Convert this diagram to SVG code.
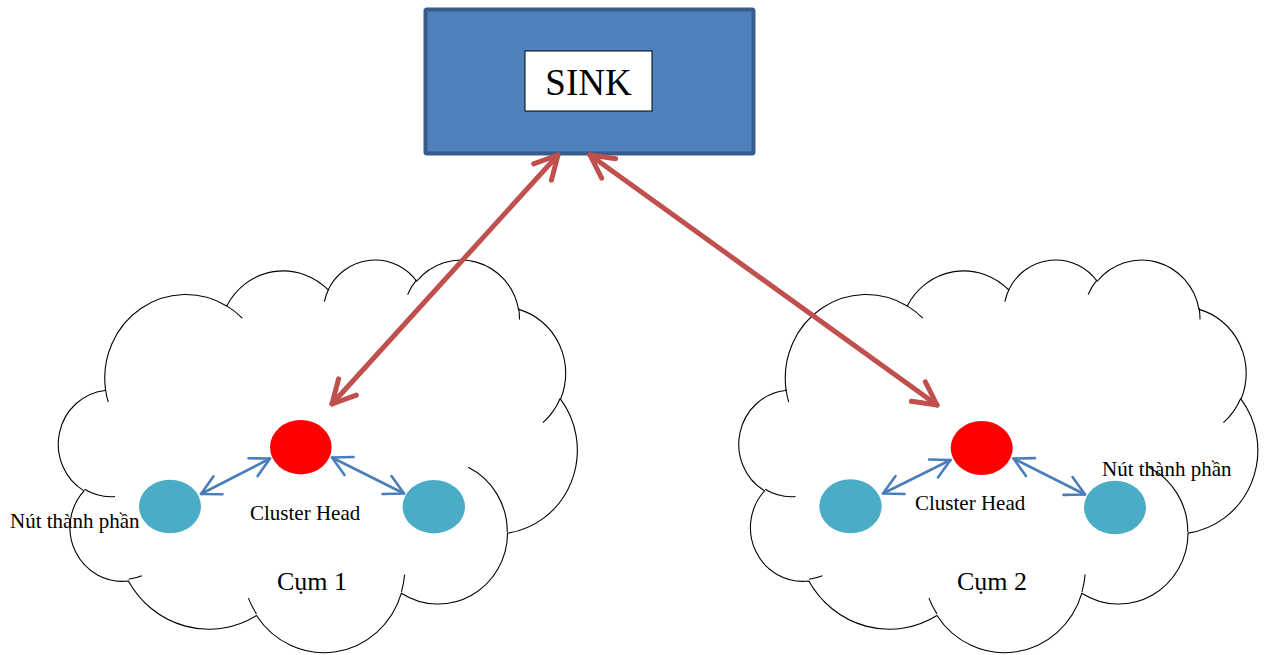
<svg xmlns="http://www.w3.org/2000/svg" xmlns:xlink="http://www.w3.org/1999/xlink" width="1267" height="655" viewBox="0 0 1267 655">
  <style>
    .cloud { fill: #ffffff; stroke: #000000; stroke-width: 1.1; vector-effect: non-scaling-stroke; }
    .cloudInner { fill: none; stroke: #000000; stroke-width: 1.1; vector-effect: non-scaling-stroke; }
    .member { fill: #4bacc6; }
    .head { fill: #ff0000; }
    .red { stroke: #c0504d; stroke-width: 5; stroke-linecap: round; fill: none; }
    .blue { stroke: #4a7ebb; stroke-width: 2.6; stroke-linecap: round; fill: none; }
    .t { font-family: "Liberation Serif", "Times New Roman", serif; fill: #000000; }
  </style>
  <defs>
    <marker id="redHead" markerUnits="userSpaceOnUse" viewBox="-30 -20 40 40" refX="0" refY="0" markerWidth="40" markerHeight="40" orient="auto-start-reverse" overflow="visible">
      <path d="M -23 -12 L 0 0 L -23 12" fill="none" stroke="#c0504d" stroke-width="5" stroke-linecap="round" stroke-linejoin="round"/>
    </marker>
    <marker id="blueHead" markerUnits="userSpaceOnUse" viewBox="-30 -20 40 40" refX="0" refY="0" markerWidth="40" markerHeight="40" orient="auto-start-reverse" overflow="visible">
      <path d="M -19 -10 L 0 0 L -19 10" fill="none" stroke="#4a7ebb" stroke-width="2.6" stroke-linecap="round" stroke-linejoin="round"/>
    </marker>
    <g id="cloudShape">
      <path class="cloud" d="M 3900 14370 A 6753 9190 0 0 1 14004 5202 A 5333 7267 0 0 1 22456 3431 A 4365 5945 0 0 1 29833 2479 A 4857 6595 0 0 1 38318 5576 A 5333 7273 0 0 1 41818 15460 A 6775 9220 0 0 1 37404 30203 A 5785 7867 0 0 1 28556 36813 A 6752 9215 0 0 1 16480 39264 A 7720 10543 0 0 1 5804 35470 A 4360 5918 0 0 1 2113 25548 A 4345 5945 0 0 1 3863 14505 Z"/>
      <path class="cloudInner" d="M 4693 26177 A 4345 5945 0 0 1 2160 25380 M 6928 34899 A 4360 5918 0 0 1 5820 35280 M 16478 39090 A 6752 9215 0 0 1 15810 37350 M 28827 34751 A 6752 9215 0 0 1 28560 36660 M 34129 22954 A 5785 7867 0 0 1 37381 30090 M 41798 15354 A 5333 7273 0 0 1 40350 18030 M 38324 5426 A 4857 6595 0 0 1 38400 6689 M 29078 3952 A 4857 6595 0 0 1 29820 2340 M 22141 4720 A 4365 5945 0 0 1 22500 3330 M 14000 5192 A 6753 9190 0 0 1 15300 6541 M 4127 15789 A 6753 9190 0 0 1 3900 14370"/>
    </g>
  </defs>

  <g id="cluster1">
    <use href="#cloudShape" xlink:href="#cloudShape" transform="translate(58.7,258.7) scale(0.012,0.009087)"/>
  </g>
  <g id="cluster2">
    <use href="#cloudShape" xlink:href="#cloudShape" transform="translate(739.2,258.7) scale(0.012,0.009087)"/>
  </g>

  <g id="sink">
    <rect x="425.5" y="9.5" width="328" height="144" rx="1.5" fill="#4f81bd" stroke="#385d8a" stroke-width="4"/>
    <rect x="525" y="51" width="127" height="60" fill="#ffffff" stroke="#000000" stroke-width="1"/>
    <text class="t" x="588.5" y="95" font-size="37" text-anchor="middle">SINK</text>
  </g>

  <g id="c1-head"><ellipse class="head" cx="300.8" cy="447.2" rx="30.8" ry="27.2"/></g>
  <g id="c1-member-left"><ellipse class="member" cx="170" cy="506.5" rx="31" ry="26.7"/></g>
  <g id="c1-member-right"><ellipse class="member" cx="433.8" cy="506.7" rx="31.2" ry="26.7"/></g>
  <g id="c2-head"><ellipse class="head" cx="981.7" cy="448" rx="31" ry="27"/></g>
  <g id="c2-member-left"><ellipse class="member" cx="850.5" cy="506.3" rx="31.2" ry="27"/></g>
  <g id="c2-member-right"><ellipse class="member" cx="1115" cy="507.5" rx="31" ry="26.7"/></g>

  <g id="connectors">
    <line class="red" x1="558" y1="155" x2="332" y2="404" marker-start="url(#redHead)" marker-end="url(#redHead)"/>
    <line class="red" x1="590" y1="155" x2="937" y2="405" marker-start="url(#redHead)" marker-end="url(#redHead)"/>
    <line class="blue" x1="201" y1="494" x2="270" y2="458.5" marker-start="url(#blueHead)" marker-end="url(#blueHead)"/>
    <line class="blue" x1="332" y1="457.5" x2="404" y2="493.5" marker-start="url(#blueHead)" marker-end="url(#blueHead)"/>
    <line class="blue" x1="883" y1="493.5" x2="950.5" y2="460" marker-start="url(#blueHead)" marker-end="url(#blueHead)"/>
    <line class="blue" x1="1013.5" y1="458.5" x2="1085" y2="494.5" marker-start="url(#blueHead)" marker-end="url(#blueHead)"/>
  </g>

  <g id="labels">
    <text class="t" x="10" y="528" font-size="21">Nút thành phần</text>
    <text class="t" x="250" y="519.5" font-size="21">Cluster Head</text>
    <text class="t" x="277" y="589.5" font-size="26">Cụm 1</text>
    <text class="t" x="1102" y="476" font-size="21">Nút thành phần</text>
    <text class="t" x="915" y="510" font-size="21">Cluster Head</text>
    <text class="t" x="957" y="589.5" font-size="26">Cụm 2</text>
  </g>
</svg>
